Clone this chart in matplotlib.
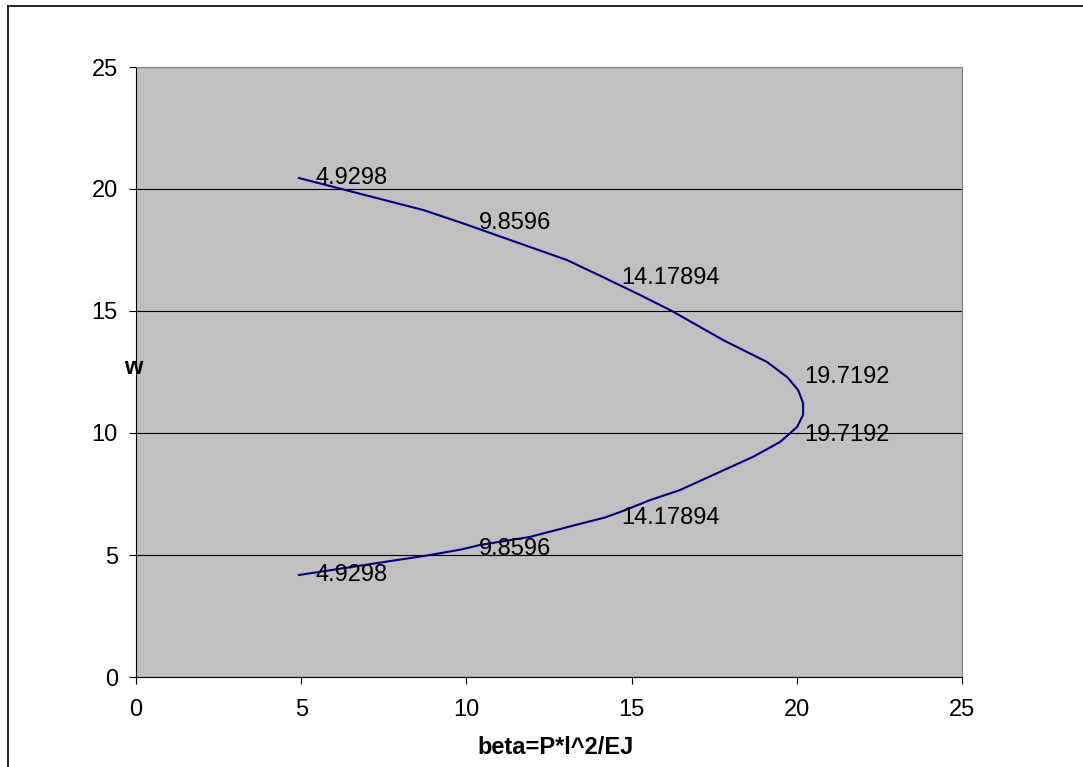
import matplotlib.pyplot as plt
from matplotlib.lines import Line2D

plt.rcParams['font.family'] = ['Liberation Sans', 'DejaVu Sans']

# curve (beta, w)
beta = [4.9298, 8.69, 9.8596, 13.04, 14.17894, 15.25, 16.22, 17.77, 19.10, 19.7192,
        20.04, 20.19, 20.19, 20.01, 19.7192, 19.49, 18.67, 16.46, 15.56, 14.65,
        14.17894, 13.53, 11.92, 10.41, 9.8596, 8.90, 4.9298]
w = [20.45, 19.14, 18.61, 17.09, 16.36, 15.66, 15.0, 13.81, 12.91, 12.28,
     11.76, 11.23, 10.74, 10.25, 9.90, 9.63, 9.02, 7.66, 7.25, 6.76,
     6.53, 6.31, 5.74, 5.41, 5.23, 5.00, 4.18]
# points carrying a data label
labelled = [0, 2, 4, 9, 14, 20, 24, 26]

xticks = [0, 5, 10, 15, 20, 25]
yticks = [0, 5, 10, 15, 20, 25]

fig = plt.figure(figsize=(10.83, 7.67), dpi=100)
ax = fig.add_axes([136/1083, 1-677/767, (962-136)/1083, (677-67)/767])
ax.set_facecolor('#C0C0C0')

ax.plot(beta, w, color='#000080', lw=1.5, zorder=3)
for i in labelled:
    ax.annotate(str(beta[i]), (beta[i], w[i]), xytext=(12, 0), textcoords='offset points',
                ha='left', va='center', fontsize=17, zorder=4)

ax.set_xlim(0, 25)
ax.set_ylim(0, 25)
ax.set_xticks(xticks)
ax.set_yticks(yticks)
ax.tick_params(direction='out', length=5, width=0.8, labelsize=17, pad=8)
ax.tick_params(axis='x', pad=11)
ax.yaxis.grid(True, color='black', lw=0.8)
ax.set_axisbelow(True)
for s in ['top', 'right']:
    ax.spines[s].set_color('#808080')
for s in ['left', 'bottom']:
    ax.spines[s].set_color('black')

fig.text(133/1083, 1-368/767, 'w', fontsize=17, fontweight='bold', ha='center', va='center')
fig.text(556/1083, 1-748/767, 'beta=P*l^2/EJ', fontsize=17, fontweight='bold', ha='center', va='center')

# chart area border (left and top edges visible)
fig.add_artist(Line2D([7.5/1083, 7.5/1083], [0, 1-5.5/767], color='black', lw=1.2))
fig.add_artist(Line2D([7.5/1083, 1], [1-5.5/767, 1-5.5/767], color='black', lw=1.2))

fig.savefig('out.png', dpi=100)
